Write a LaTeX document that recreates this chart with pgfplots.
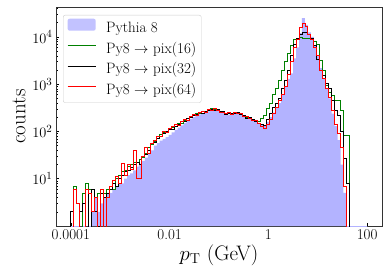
\documentclass[border=0pt]{standalone}
\usepackage{pgfplots}
\usepackage{pgfplotstable}
\pgfplotsset{compat=1.18}
\definecolor{pyfill}{RGB}{179,179,255}
\definecolor{mplgreen}{RGB}{0,128,0}
\pgfplotstableread{
lx py g b r
-4.00 0.1 0.1 0.1 0.1
-4.00 0.1 0.1 2 0.1
-3.94 0.1 7 0.1 6
-3.88 0.1 3 0.1 3
-3.82 1 0.1 2 0.1
-3.76 0.1 5 3 0.1
-3.70 1 8 6 6
-3.64 0.1 6 0.1 5
-3.58 2 2 6 2
-3.52 4 2 2 4
-3.46 2 5 1 0.1
-3.40 3 5 5 6
-3.34 4 5 4 0.1
-3.28 5 6 5 4
-3.22 5 7 6 7
-3.16 6 6 8 9
-3.10 7 10 7 11
-3.04 8 12 10 8
-2.98 8 14 12 21
-2.92 10 15 14 12
-2.86 12 18 15 20
-2.80 13 20 17 16
-2.74 15 22 20 40
-2.68 18 22 22 10
-2.62 21 25 20 10
-2.56 24 28 30 30
-2.50 28 35 32 45
-2.44 33 45 40 35
-2.38 40 52 55 55
-2.32 50 62 60 65
-2.26 57 72 70 78
-2.20 64 85 80 80
-2.14 70 95 92 100
-2.08 76 100 98 95
-2.02 85 110 110 115
-1.96 96 120 108 125
-1.90 108 125 130 140
-1.84 120 145 140 135
-1.78 135 150 160 165
-1.72 150 170 165 180
-1.66 165 185 190 175
-1.60 185 200 195 210
-1.54 200 215 220 230
-1.48 215 235 225 220
-1.42 230 240 250 255
-1.36 245 260 245 265
-1.30 255 270 260 250
-1.24 265 285 280 290
-1.18 275 300 290 285
-1.12 280 295 285 300
-1.06 272 280 295 275
-1.00 262 270 260 255
-0.94 250 255 265 250
-0.88 235 245 230 235
-0.82 228 235 240 250
-0.76 232 240 235 225
-0.70 238 250 245 255
-0.64 240 245 250 240
-0.58 228 230 225 245
-0.52 210 215 220 205
-0.46 195 200 190 210
-0.40 185 190 195 185
-0.34 175 170 180 170
-0.28 165 175 160 175
-0.22 150 165 150 145
-0.16 140 190 140 125
-0.10 135 215 135 118
-0.04 160 300 180 140
0.02 200 400 240 180
0.08 250 600 320 240
0.14 320 830 400 330
0.20 400 1200 500 460
0.26 600 2000 800 620
0.32 900 3000 1200 900
0.38 1300 4500 2000 1600
0.44 1700 6500 4000 3000
0.50 3500 8800 7000 6000
0.56 6000 9500 9500 9000
0.62 12000 9600 11500 16000
0.68 25000 9400 12500 19500
0.74 18000 9500 12500 17000
0.80 12500 9400 11500 11500
0.86 10000 9300 9300 9000
0.92 6500 7900 6500 6000
0.98 4000 7000 3300 4000
1.04 2200 3200 2000 2000
1.10 1300 2000 1500 1300
1.16 830 950 1050 800
1.22 500 680 830 530
1.28 240 590 460 280
1.34 130 460 280 140
1.40 66 460 220 90
1.46 20 280 100 47
1.52 5 83 27 7
1.58 0.1 83 8 0.1
1.64 0.1 0.1 0.1 0.1
2.00 0.1 0.1 0.1 0.1
}\hist
\begin{document}
\begin{tikzpicture}
\begin{axis}[
  scale only axis, width=326pt, height=219pt,
  xmin=-4.3, xmax=2.3,
  ymode=log, ymin=1, ymax=43000,
  xtick={-4,-2,0,2}, xticklabels={0.0001,0.01,1,100},
  ytick={10,100,1000,10000},
  minor ytick={2,3,...,9,20,30,...,90,200,300,...,900,2000,3000,...,9000,20000,30000,40000},
  tick align=inside, xtick pos=bottom, ytick pos=left,
  major tick length=3pt, minor tick length=1.7pt,
  tick style={black, line width=0.5pt},
  axis line style={black!80, line width=0.6pt},
  ticklabel style={font=\fontsize{15}{18}\selectfont},
  label style={font=\fontsize{21}{25}\selectfont},
  xlabel={$p_{\mathrm{T}}$ (GeV)},
  ylabel={counts},
  xlabel style={yshift=2pt},
  clip=true,
  legend cell align=left,
  legend style={at={(axis description cs:0.0215,0.9635)}, anchor=north west,
    draw=black!20, rounded corners=2pt, fill=white, fill opacity=0.8, text opacity=1,
    row sep=4.2pt, inner xsep=4pt, inner ysep=3.5pt,
    nodes={font=\fontsize{15}{18}\selectfont, text height=11pt, text depth=3.5pt, inner ysep=1pt, inner xsep=1pt},
    /tikz/every odd column/.append style={column sep=9pt}},
]
\coordinate (bl) at (rel axis cs:0,0);
\coordinate (tr) at (rel axis cs:1,1);
\addplot[const plot, fill=pyfill, draw=none,
  legend image code/.code={\fill[pyfill] (0pt,-2pt) rectangle (28pt,10pt);}]
  table[x=lx,y=py]{\hist} \closedcycle;
\addlegendentry{Pythia 8}
\addplot[const plot, mplgreen, line width=0.9pt,
  legend image code/.code={\draw[mplgreen, line width=0.9pt] (0pt,4pt) -- (28pt,4pt);}]
  table[x=lx,y=g]{\hist};
\addlegendentry{Py8 $\rightarrow$ pix(16)}
\addplot[const plot, black, line width=0.9pt,
  legend image code/.code={\draw[black, line width=0.9pt] (0pt,4pt) -- (28pt,4pt);}]
  table[x=lx,y=b]{\hist};
\addlegendentry{Py8 $\rightarrow$ pix(32)}
\addplot[const plot, red, line width=0.9pt,
  legend image code/.code={\draw[red, line width=0.9pt] (0pt,4pt) -- (28pt,4pt);}]
  table[x=lx,y=r]{\hist};
\addlegendentry{Py8 $\rightarrow$ pix(64)}
\end{axis}
\pgfresetboundingbox
\path[use as bounding box] ([xshift=-56pt,yshift=-53pt]bl) rectangle ([xshift=8pt,yshift=7pt]tr);
\end{tikzpicture}
\end{document}
